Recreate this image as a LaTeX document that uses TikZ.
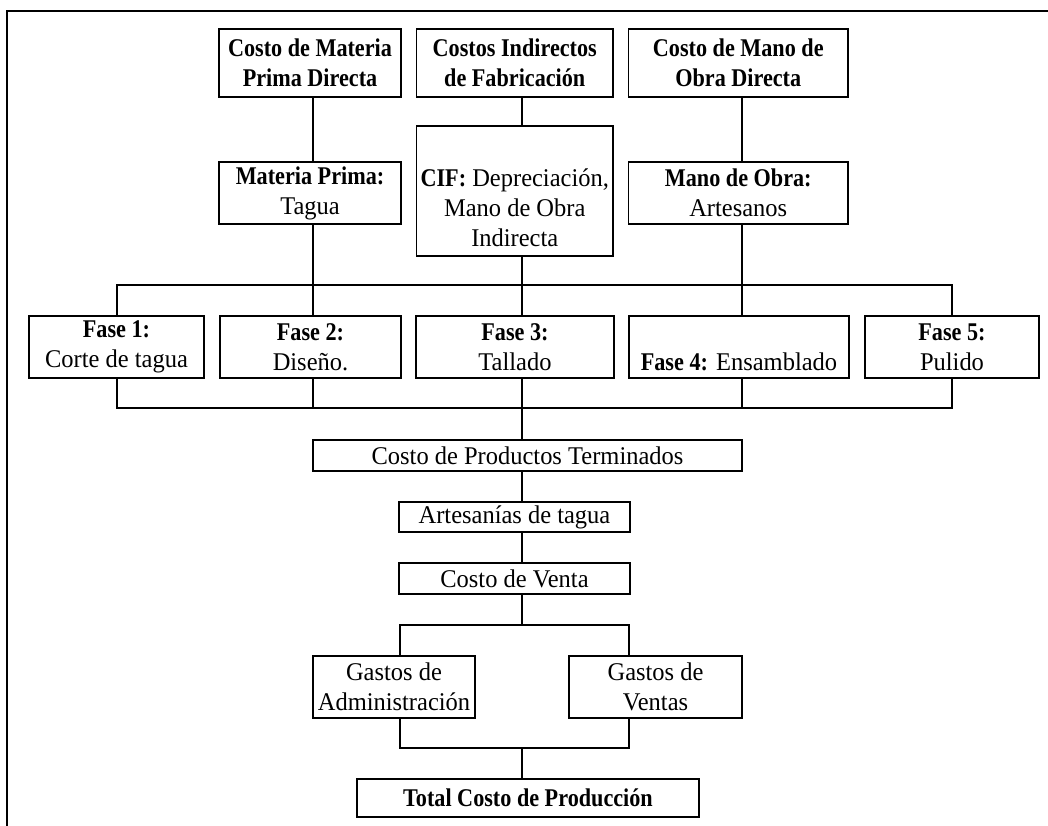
\documentclass[tikz,border=0pt]{standalone}
\usepackage{fontspec}
\setmainfont{Liberation Serif}[UprightFeatures={FakeStretch=0.96}, BoldFeatures={FakeStretch=0.87}]
\usetikzlibrary{calc}
\tikzset{
  box/.style={draw, line width=1.5pt, inner sep=0pt, align=center,
              font=\fontsize{25.5}{30}\selectfont},
  conn/.style={line width=1.5pt},
  frame/.style={line width=2pt}
}
\begin{document}
\begin{tikzpicture}[x=1pt,y=-1pt]
\useasboundingbox (0,0) rectangle (1048,826);
\draw[frame] (7,827) -- (7,11) -- (1049,11);

% column coordinates
\coordinate (c1) at (117,0);
\coordinate (c2) at (313,0);
\coordinate (c3) at (522,0);
\coordinate (c4) at (742,0);
\coordinate (c5) at (952,0);
\coordinate (g1) at (400,0);
\coordinate (g2) at (629,0);
\coordinate (busA) at (0,285);
\coordinate (busB) at (0,408);
\coordinate (busC) at (0,625);
\coordinate (busD) at (0,748);

% top row
\node[box, minimum width=182, minimum height=68] (cmp) at (310,63)
  {\textbf{Costo de Materia}\\\textbf{Prima Directa}};
\node[box, minimum width=196.5, minimum height=68] (cif) at (514.75,63)
  {\textbf{Costos Indirectos}\\\textbf{de Fabricación}};
\node[box, minimum width=219.5, minimum height=68] (cmo) at (738.25,63)
  {\textbf{Costo de Mano de}\\\textbf{Obra Directa}};

% second row
\node[box, minimum width=182, minimum height=62] (mp) at (310,193)
  {\textbf{Materia Prima:}\\Tagua};
\node[box, minimum width=196.5, minimum height=130] (cifd) at (514.75,191)
  {\parbox[c][112pt][b]{194pt}{\centering\textbf{CIF:} Depreciación,\\Mano de Obra\\Indirecta}};
\node[box, minimum width=219.5, minimum height=62] (mo) at (738.25,193)
  {\textbf{Mano de Obra:}\\Artesanos};

% phases
\node[box, minimum width=175, minimum height=62] (f1) at (116.5,347)
  {\textbf{Fase 1:}\\Corte de tagua};
\node[box, minimum width=181, minimum height=62] (f2) at (310.5,347)
  {\textbf{Fase 2:}\\Diseño.};
\node[box, minimum width=198, minimum height=62] (f3) at (515,347)
  {\textbf{Fase 3:}\\Tallado};
\node[box, minimum width=220, minimum height=62] (f4) at (739,347)
  {\vphantom{\textbf{Fase}}\\\textbf{Fase 4:} Ensamblado};
\node[box, minimum width=174, minimum height=62] (f5) at (952,347)
  {\textbf{Fase 5:}\\Pulido};

% lower chain
\node[box, minimum width=429, minimum height=31] (cpt) at (527.5,455.5)
  {Costo de Productos Terminados};
\node[box, minimum width=231, minimum height=30] (art) at (514.5,517)
  {Artesanías de tagua};
\node[box, minimum width=231, minimum height=31] (cv) at (514.5,578.5)
  {Costo de Venta};
\node[box, minimum width=162, minimum height=62] (ga) at (394,687)
  {Gastos de\\Administración};
\node[box, minimum width=173, minimum height=62] (gv) at (655.5,687)
  {Gastos de\\Ventas};
\node[box, line width=2pt, minimum width=342, minimum height=38] (tot) at (528,798)
  {\textbf{Total Costo de Producción}};

% connectors top
\draw[conn] (cmp.south -| c2) -- (mp.north -| c2);
\draw[conn] (cif.south -| c3) -- (cifd.north -| c3);
\draw[conn] (cmo.south -| c4) -- (mo.north -| c4);

% upper bus
\draw[conn] (f1.north -| c1) -- (busA -| c1) -- (busA -| c5) -- (f5.north -| c5);
\draw[conn] (mp.south -| c2) -- (f2.north -| c2);
\draw[conn] (cifd.south -| c3) -- (f3.north -| c3);
\draw[conn] (mo.south -| c4) -- (f4.north -| c4);

% lower bus
\draw[conn] (f1.south -| c1) -- (busB -| c1) -- (busB -| c5) -- (f5.south -| c5);
\draw[conn] (f2.south -| c2) -- (busB -| c2);
\draw[conn] (f3.south -| c3) -- (cpt.north -| c3);
\draw[conn] (f4.south -| c4) -- (busB -| c4);

% chain
\draw[conn] (cpt.south -| c3) -- (art.north -| c3);
\draw[conn] (art.south -| c3) -- (cv.north -| c3);
\draw[conn] (cv.south -| c3) -- (busC -| c3);
\draw[conn] (ga.north -| g1) -- (busC -| g1) -- (busC -| g2) -- (gv.north -| g2);
\draw[conn] (ga.south -| g1) -- (busD -| g1) -- (busD -| g2) -- (gv.south -| g2);
\draw[conn] (busD -| c3) -- (tot.north -| c3);
\end{tikzpicture}
\end{document}
